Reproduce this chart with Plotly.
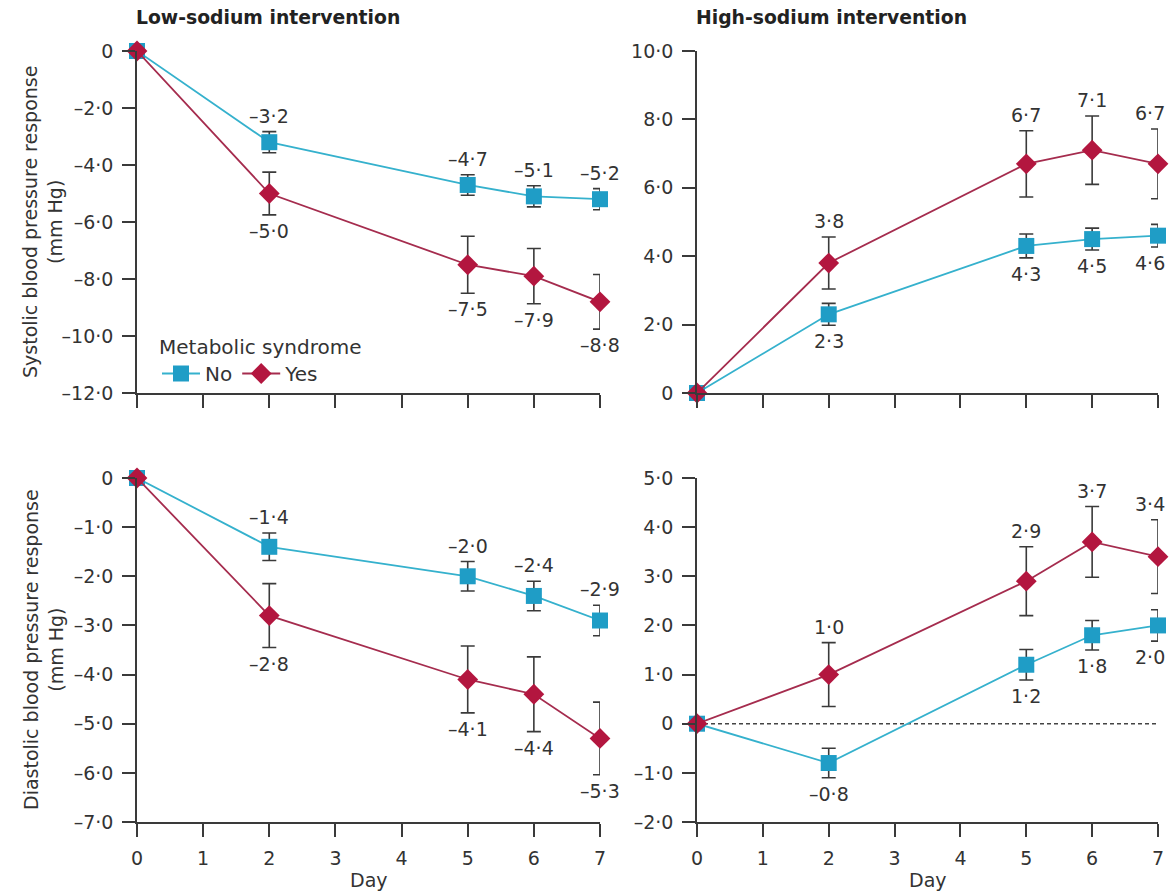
import plotly.graph_objects as go

W, H = 1171, 893

# ---------------- data ----------------
days = [0, 2, 5, 6, 7]

sbp_low_no = [0, -3.2, -4.7, -5.1, -5.2]
sbp_low_no_err = [0, 0.37, 0.36, 0.37, 0.37]
sbp_low_yes = [0, -5.0, -7.5, -7.9, -8.8]
sbp_low_yes_err = [0, 0.75, 1.0, 0.97, 0.96]

sbp_high_no = [0, 2.3, 4.3, 4.5, 4.6]
sbp_high_no_err = [0, 0.32, 0.35, 0.32, 0.33]
sbp_high_yes = [0, 3.8, 6.7, 7.1, 6.7]
sbp_high_yes_err = [0, 0.76, 0.97, 1.0, 1.02]

dbp_low_no = [0, -1.4, -2.0, -2.4, -2.9]
dbp_low_no_err = [0, 0.28, 0.30, 0.30, 0.31]
dbp_low_yes = [0, -2.8, -4.1, -4.4, -5.3]
dbp_low_yes_err = [0, 0.65, 0.68, 0.76, 0.74]

dbp_high_no = [0, -0.8, 1.2, 1.8, 2.0]
dbp_high_no_err = [0, 0.30, 0.31, 0.30, 0.32]
dbp_high_yes = [0, 1.0, 2.9, 3.7, 3.4]
dbp_high_yes_err = [0, 0.65, 0.70, 0.72, 0.75]

x_ticks = [0, 1, 2, 3, 4, 5, 6, 7]
sbp_low_ticks = [0, -2, -4, -6, -8, -10, -12]
sbp_high_ticks = [0, 2, 4, 6, 8, 10]
dbp_low_ticks = [0, -1, -2, -3, -4, -5, -6, -7]
dbp_high_ticks = [-2, -1, 0, 1, 2, 3, 4, 5]

panel_titles = ["Low-sodium intervention", "High-sodium intervention"]
y_titles = ["Systolic blood pressure response<br>(mm Hg)",
            "Diastolic blood pressure response<br>(mm Hg)"]
series_names = ["No", "Yes"]
legend_title = "Metabolic syndrome"
x_title = "Day"

# ---------------- style ----------------
FONT = "DejaVu Sans"
TXT = "#333333"
AX = "#3a3a3a"
TEAL_M, TEAL_L = "#1f9dc6", "#35b1cd"
RED_M, RED_L = "#b3163f", "#a52c4e"
FS = 19


def fmt(v):
    if v == 0:
        return "0"
    s = f"{abs(v):.1f}".replace(".", "\u00b7")
    return ("\u2013" + s) if v < 0 else s


# panel geometry in pixels (plot area)
XL = (137, 600)
XR = (697, 1158)
YT = (51, 393)
YB = (478, 822)


def dom_x(p):
    return [p[0] / W, p[1] / W]


def dom_y(p):
    return [1 - p[1] / H, 1 - p[0] / H]


panels = [
    ("", XL, YT, sbp_low_no, sbp_low_no_err, sbp_low_yes, sbp_low_yes_err, sbp_low_ticks, [-12, 0], "above", False),
    ("2", XR, YT, sbp_high_no, sbp_high_no_err, sbp_high_yes, sbp_high_yes_err, sbp_high_ticks, [0, 10], "below", False),
    ("3", XL, YB, dbp_low_no, dbp_low_no_err, dbp_low_yes, dbp_low_yes_err, dbp_low_ticks, [-7, 0], "above", True),
    ("4", XR, YB, dbp_high_no, dbp_high_no_err, dbp_high_yes, dbp_high_yes_err, dbp_high_ticks, [-2, 5], "below", True),
]

fig = go.Figure()
annotations = []
layout = {}

for k, (sfx, xp, yp, no, no_e, yes, yes_e, yt, yr, no_side, show_x) in enumerate(panels):
    xa, ya = "x" + sfx, "y" + sfx
    at_right_edge = xp is XR
    for name, vals, errs, mc, lc, sym, size, side in [
        (series_names[0], no, no_e, TEAL_M, TEAL_L, "square", 16, no_side),
        (series_names[1], yes, yes_e, RED_M, RED_L, "diamond", 16,
         "below" if no_side == "above" else "above"),
    ]:
        fig.add_trace(go.Scatter(
            x=days, y=vals, mode="lines+markers", name=name,
            xaxis=xa, yaxis=ya, showlegend=(k == 0),
            line=dict(color=lc, width=1.8),
            marker=dict(symbol=sym, size=size, color=mc, line=dict(width=0)),
            error_y=dict(type="data", array=errs, visible=True, color=AX,
                         thickness=1.6, width=7),
            cliponaxis=False,
        ))
        for d, v, e in zip(days, vals, errs):
            if d == 0:
                continue
            xs = -8 if (at_right_edge and d == days[-1]) else 0
            if side == "above":
                annotations.append(dict(x=d, y=v + e, xref=xa, yref=ya, text=fmt(v),
                                        showarrow=False, yanchor="bottom", yshift=3,
                                        xshift=xs,
                                        font=dict(family=FONT, size=FS, color=TXT)))
            else:
                annotations.append(dict(x=d, y=v - e, xref=xa, yref=ya, text=fmt(v),
                                        showarrow=False, yanchor="top", yshift=-3,
                                        xshift=xs,
                                        font=dict(family=FONT, size=FS, color=TXT)))

    xkey = "xaxis" + sfx
    ykey = "yaxis" + sfx
    layout[xkey] = dict(
        domain=dom_x(xp), anchor=ya, range=[0, 7], tickmode="array",
        tickvals=x_ticks, ticktext=[str(t) for t in x_ticks],
        showticklabels=show_x, ticks="outside", ticklen=13, tickwidth=1.6,
        tickcolor=AX, showline=True, linecolor=AX, linewidth=1.6,
        showgrid=False, zeroline=False, fixedrange=True, ticklabelstandoff=5,
        automargin=False,
        tickfont=dict(family=FONT, size=FS, color=TXT),
    )
    layout[ykey] = dict(
        domain=dom_y(yp), anchor=xa, range=yr, tickmode="array",
        tickvals=yt, ticktext=[fmt(t) for t in yt],
        ticks="outside", ticklen=13, tickwidth=1.6, tickcolor=AX,
        showline=True, linecolor=AX, linewidth=1.6, ticklabelstandoff=5,
        showgrid=False, zeroline=False, fixedrange=True, automargin=False,
        tickfont=dict(family=FONT, size=FS, color=TXT),
    )

# panel titles
for t, xp in zip(panel_titles, [XL, XR]):
    annotations.append(dict(x=xp[0] / W, y=1 - 18 / H, xref="paper", yref="paper",
                            text=f"<b>{t}</b>", showarrow=False, xanchor="left",
                            yanchor="middle", xshift=-3,
                            font=dict(family=FONT, size=18.8, color="#222")))
# y titles
for t, yp in zip(y_titles, [YT, YB]):
    annotations.append(dict(x=43 / W, y=1 - (yp[0] + yp[1]) / 2 / H, xref="paper",
                            yref="paper", text=t, showarrow=False, textangle=-90,
                            xanchor="center", yanchor="middle",
                            font=dict(family=FONT, size=FS, color=TXT)))
# x titles
for xp in [XL, XR]:
    annotations.append(dict(x=(xp[0] + xp[1]) / 2 / W, y=1 - 880 / H, xref="paper",
                            yref="paper", text=x_title, showarrow=False,
                            xanchor="center", yanchor="middle",
                            font=dict(family=FONT, size=FS, color=TXT)))

fig.update_layout(
    width=W, height=H,
    margin=dict(l=0, r=0, t=0, b=0, autoexpand=False),
    paper_bgcolor="white", plot_bgcolor="white",
    annotations=annotations,
    shapes=[dict(type="line", xref="x4", yref="y4", x0=0, x1=7, y0=0, y1=0,
                 line=dict(color="#444", width=1.6, dash="4px,3px"), layer="below")],
    legend=dict(x=157 / W, y=1 - 328 / H, xanchor="left", yanchor="top",
                orientation="h", bgcolor="rgba(0,0,0,0)",
                font=dict(family=FONT, size=20, color=TXT),
                title=dict(text=legend_title, side="top",
                           font=dict(family=FONT, size=20, color=TXT)),
                itemwidth=38, tracegroupgap=0),
    **layout,
)

fig.write_html(
    "out.html",
    post_script="document.body.style.margin='0px';"
                "document.body.style.overflow='hidden';",
)
